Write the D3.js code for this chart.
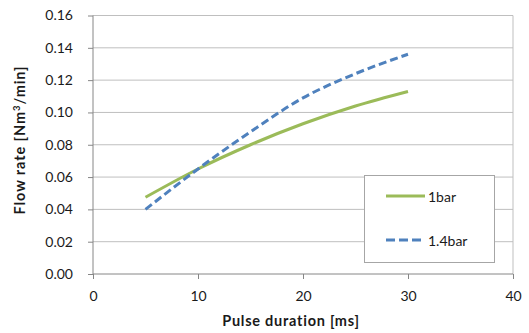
<!DOCTYPE html>
<html><head><meta charset="utf-8">
<script src="https://cdn.jsdelivr.net/npm/d3@7"></script>
<style>body{margin:0;background:#fff;} text{font-family:Lato,"Open Sans",sans-serif;}</style>
</head><body>
<svg id="c" width="529" height="333"></svg>
<script>
const durations = [5, 10, 15, 20, 25, 30];
const flow1bar = [0.0475, 0.065, 0.080, 0.093, 0.104, 0.113];
const flow14bar = [0.040, 0.065, 0.088, 0.109, 0.124, 0.136];
const seriesNames = ["1bar", "1.4bar"];
const xTicks = [0, 10, 20, 30, 40];
const yTicks = [0, 0.02, 0.04, 0.06, 0.08, 0.10, 0.12, 0.14, 0.16];

const svg = d3.select("#c");
const L = 93, R = 513, T = 15.5, B = 274;
const x = d3.scaleLinear().domain([0, 40]).range([L, R]);
const y = d3.scaleLinear().domain([0, 0.16]).range([B, T]);

// gridlines
svg.append("g").selectAll("line").data(yTicks.slice(1)).join("line")
  .attr("x1", L).attr("x2", R).attr("y1", d => y(d)).attr("y2", d => y(d))
  .attr("stroke", "#bfbfbf").attr("stroke-width", 1);
svg.append("line").attr("x1", R).attr("x2", R).attr("y1", T).attr("y2", B)
  .attr("stroke", "#bfbfbf");

// axes
const yAx = svg.append("g").attr("transform", `translate(${L},0)`)
  .call(d3.axisLeft(y).tickValues(yTicks).tickFormat(d3.format(".2f")).tickSize(5).tickPadding(15));
const xAx = svg.append("g").attr("transform", `translate(0,${B})`)
  .call(d3.axisBottom(x).tickValues(xTicks).tickSize(5).tickPadding(12));
[yAx, xAx].forEach(a => {
  a.select(".domain").attr("stroke", "#868686");
  a.selectAll(".tick line").attr("stroke", "#868686");
  a.selectAll("text").attr("font-size", 14).attr("fill", "#1a1a1a").style("font-family", "Lato, sans-serif");
});
yAx.select(".domain").attr("d", `M0,${B}V${T}`);
xAx.select(".domain").attr("d", `M${L},0H${R}`);

// lines
const line = d3.line().x((d, i) => x(durations[i])).y(d => y(d)).curve(d3.curveMonotoneX);
svg.append("path").attr("d", line(flow1bar)).attr("fill", "none")
  .attr("stroke", "#9bbb59").attr("stroke-width", 3);
svg.append("path").attr("d", line(flow14bar)).attr("fill", "none")
  .attr("stroke", "#4f81bd").attr("stroke-width", 3).attr("stroke-dasharray", "8,4");

// fit text to a target width by adjusting letter spacing
function fit(t, target) {
  const n = t.text().length;
  const w = t.node().getComputedTextLength();
  if (n > 1) t.attr("letter-spacing", ((target - w) / (n - 1)).toFixed(2));
}

// axis titles
const xt = svg.append("text").attr("x", 291).attr("y", 326).attr("text-anchor", "middle")
  .attr("font-size", 14.5).attr("font-weight", "bold").attr("fill", "#1a1a1a").text("Pulse duration [ms]");
fit(xt, 137);
const yt = svg.append("text").attr("transform", `translate(25,140) rotate(-90)`)
  .attr("text-anchor", "middle").attr("font-size", 14.5).attr("font-weight", "bold").attr("fill", "#1a1a1a")
  .attr("letter-spacing", 0.9);
yt.append("tspan").text("Flow rate [Nm");
yt.append("tspan").attr("dy", -5).attr("font-size", 9.5).text("3");
yt.append("tspan").attr("dy", 5).text("/min]");

// legend
const lg = svg.append("g");
lg.append("rect").attr("x", 364.5).attr("y", 175.5).attr("width", 130).attr("height", 87)
  .attr("fill", "#fff").attr("stroke", "#a6a6a6");
const colors = ["#9bbb59", "#4f81bd"], dashes = [null, "9,4"], ly = [196, 240];
seriesNames.forEach((n, i) => {
  lg.append("line").attr("x1", 386).attr("x2", 425).attr("y1", ly[i]).attr("y2", ly[i])
    .attr("stroke", colors[i]).attr("stroke-width", 3).attr("stroke-dasharray", dashes[i]);
  lg.append("text").attr("x", 428).attr("y", ly[i] + 5.5).attr("font-size", 14).attr("fill", "#1a1a1a").text(n);
});
</script>
</body></html>
